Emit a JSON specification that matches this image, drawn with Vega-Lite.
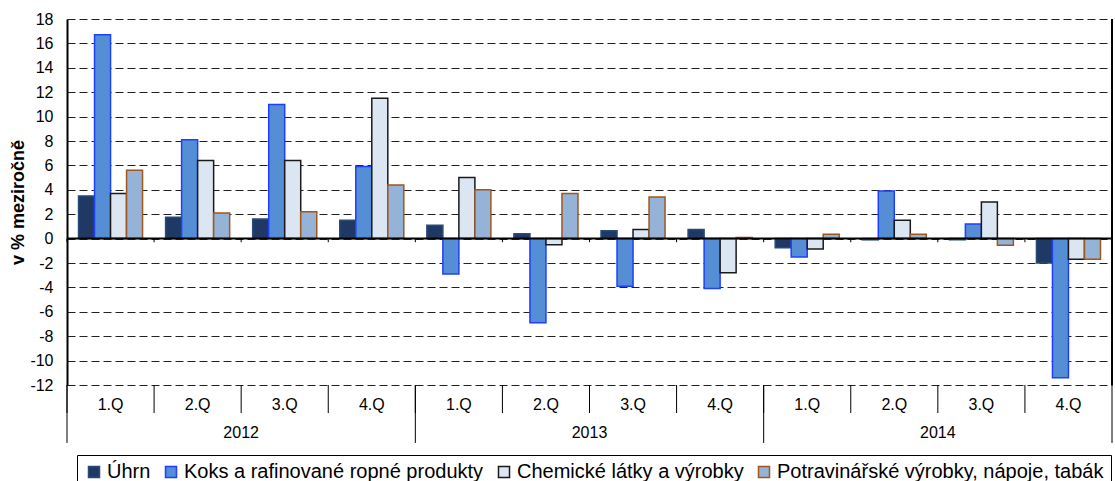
{
  "$schema": "https://vega.github.io/schema/vega-lite/v6.json",
  "width": 1045,
  "height": 366,
  "autosize": {"type": "none"},
  "padding": {"left": 67, "top": 19, "right": 3, "bottom": 96},
  "background": "white",
  "title": {"text": "Ceny průmyslových výrobců ve vybraných oddílech", "fontSize": 16, "fontWeight": "bold", "anchor": "middle", "baseline": "alphabetic", "offset": 6, "dy": 6, "color": "black", "font": "Liberation Sans"},
  "config": {
    "view": {"stroke": null},
    "font": "Liberation Sans",
    "axisY": {"titleFontSize": 18, "titleFontWeight": "bold", "titleColor": "black", "titlePadding": 2, "labelFontSize": 16, "labelColor": "black", "labelPadding": 14, "labelOverlap": false, "ticks": false, "domainColor": "black", "domainWidth": 2, "grid": true, "gridColor": "#222222", "gridDash": [8, 4], "gridWidth": 1},
    "axisX": {"labelAngle": 0, "domain": false, "ticks": false, "labelPadding": 11, "labelFontSize": 16, "labelColor": "black", "grid": false}
  },
  "datasets": {
    "bars": [
      {"period": "2012 1.Q", "series": "Úhrn", "value": 3.5},
      {"period": "2012 1.Q", "series": "Koks a rafinované ropné produkty", "value": 16.7},
      {"period": "2012 1.Q", "series": "Chemické látky a výrobky", "value": 3.7},
      {"period": "2012 1.Q", "series": "Potravinářské výrobky, nápoje, tabák", "value": 5.6},
      {"period": "2012 2.Q", "series": "Úhrn", "value": 1.75},
      {"period": "2012 2.Q", "series": "Koks a rafinované ropné produkty", "value": 8.1},
      {"period": "2012 2.Q", "series": "Chemické látky a výrobky", "value": 6.4},
      {"period": "2012 2.Q", "series": "Potravinářské výrobky, nápoje, tabák", "value": 2.1},
      {"period": "2012 3.Q", "series": "Úhrn", "value": 1.6},
      {"period": "2012 3.Q", "series": "Koks a rafinované ropné produkty", "value": 11.0},
      {"period": "2012 3.Q", "series": "Chemické látky a výrobky", "value": 6.4},
      {"period": "2012 3.Q", "series": "Potravinářské výrobky, nápoje, tabák", "value": 2.2},
      {"period": "2012 4.Q", "series": "Úhrn", "value": 1.5},
      {"period": "2012 4.Q", "series": "Koks a rafinované ropné produkty", "value": 5.9},
      {"period": "2012 4.Q", "series": "Chemické látky a výrobky", "value": 11.5},
      {"period": "2012 4.Q", "series": "Potravinářské výrobky, nápoje, tabák", "value": 4.4},
      {"period": "2013 1.Q", "series": "Úhrn", "value": 1.1},
      {"period": "2013 1.Q", "series": "Koks a rafinované ropné produkty", "value": -2.9},
      {"period": "2013 1.Q", "series": "Chemické látky a výrobky", "value": 5.0},
      {"period": "2013 1.Q", "series": "Potravinářské výrobky, nápoje, tabák", "value": 4.0},
      {"period": "2013 2.Q", "series": "Úhrn", "value": 0.4},
      {"period": "2013 2.Q", "series": "Koks a rafinované ropné produkty", "value": -6.9},
      {"period": "2013 2.Q", "series": "Chemické látky a výrobky", "value": -0.5},
      {"period": "2013 2.Q", "series": "Potravinářské výrobky, nápoje, tabák", "value": 3.7},
      {"period": "2013 3.Q", "series": "Úhrn", "value": 0.65},
      {"period": "2013 3.Q", "series": "Koks a rafinované ropné produkty", "value": -3.9},
      {"period": "2013 3.Q", "series": "Chemické látky a výrobky", "value": 0.75},
      {"period": "2013 3.Q", "series": "Potravinářské výrobky, nápoje, tabák", "value": 3.4},
      {"period": "2013 4.Q", "series": "Úhrn", "value": 0.75},
      {"period": "2013 4.Q", "series": "Koks a rafinované ropné produkty", "value": -4.1},
      {"period": "2013 4.Q", "series": "Chemické látky a výrobky", "value": -2.8},
      {"period": "2013 4.Q", "series": "Potravinářské výrobky, nápoje, tabák", "value": 0.1},
      {"period": "2014 1.Q", "series": "Úhrn", "value": -0.75},
      {"period": "2014 1.Q", "series": "Koks a rafinované ropné produkty", "value": -1.5},
      {"period": "2014 1.Q", "series": "Chemické látky a výrobky", "value": -0.85},
      {"period": "2014 1.Q", "series": "Potravinářské výrobky, nápoje, tabák", "value": 0.35},
      {"period": "2014 2.Q", "series": "Úhrn", "value": -0.1},
      {"period": "2014 2.Q", "series": "Koks a rafinované ropné produkty", "value": 3.9},
      {"period": "2014 2.Q", "series": "Chemické látky a výrobky", "value": 1.5},
      {"period": "2014 2.Q", "series": "Potravinářské výrobky, nápoje, tabák", "value": 0.35},
      {"period": "2014 3.Q", "series": "Úhrn", "value": -0.1},
      {"period": "2014 3.Q", "series": "Koks a rafinované ropné produkty", "value": 1.2},
      {"period": "2014 3.Q", "series": "Chemické látky a výrobky", "value": 3.0},
      {"period": "2014 3.Q", "series": "Potravinářské výrobky, nápoje, tabák", "value": -0.55},
      {"period": "2014 4.Q", "series": "Úhrn", "value": -2.0},
      {"period": "2014 4.Q", "series": "Koks a rafinované ropné produkty", "value": -11.4},
      {"period": "2014 4.Q", "series": "Chemické látky a výrobky", "value": -1.7},
      {"period": "2014 4.Q", "series": "Potravinářské výrobky, nápoje, tabák", "value": -1.7}
    ],
    "periods": [
      {"period": "2012 1.Q"}, {"period": "2012 2.Q"}, {"period": "2012 3.Q"}, {"period": "2012 4.Q"},
      {"period": "2013 1.Q"}, {"period": "2013 2.Q"}, {"period": "2013 3.Q"}, {"period": "2013 4.Q"},
      {"period": "2014 1.Q"}, {"period": "2014 2.Q"}, {"period": "2014 3.Q"}, {"period": "2014 4.Q"}
    ],
    "years": [
      {"period": "2012 1.Q", "mid": "2012 2.Q", "year": "2012"},
      {"period": "2013 1.Q", "mid": "2013 2.Q", "year": "2013"},
      {"period": "2014 1.Q", "mid": "2014 2.Q", "year": "2014"}
    ],
    "edge": [{"period": "2014 4.Q"}]
  },
  "layer": [
    {
      "data": {"name": "bars"},
      "mark": {"type": "bar", "strokeWidth": 1.5},
      "encoding": {
        "x": {
          "field": "period", "type": "ordinal",
          "scale": {"domain": ["2012 1.Q", "2012 2.Q", "2012 3.Q", "2012 4.Q", "2013 1.Q", "2013 2.Q", "2013 3.Q", "2013 4.Q", "2014 1.Q", "2014 2.Q", "2014 3.Q", "2014 4.Q"], "paddingInner": 0, "paddingOuter": 0},
          "axis": {"title": null, "orient": "bottom", "labelExpr": "slice(datum.value, 5)"}
        },
        "xOffset": {
          "field": "series", "type": "nominal",
          "scale": {"domain": ["Úhrn", "Koks a rafinované ropné produkty", "Chemické látky a výrobky", "Potravinářské výrobky, nápoje, tabák"], "paddingOuter": 0.72, "paddingInner": 0}
        },
        "y": {
          "field": "value", "type": "quantitative",
          "scale": {"domain": [-12, 18], "nice": false},
          "axis": {"title": "v % meziročně", "values": [-12, -10, -8, -6, -4, -2, 0, 2, 4, 6, 8, 10, 12, 14, 16, 18], "labelExpr": "'' + datum.value"}
        },
        "fill": {
          "field": "series", "type": "nominal",
          "scale": {"domain": ["Úhrn", "Koks a rafinované ropné produkty", "Chemické látky a výrobky", "Potravinářské výrobky, nápoje, tabák"], "range": ["#1F3864", "#558ED5", "#DCE6F2", "#95B3D7"]},
          "legend": {"title": null, "orient": "none", "legendX": 10, "legendY": 436, "direction": "horizontal", "labelFontSize": 20, "labelColor": "black", "labelLimit": 500, "symbolType": "square", "symbolSize": 121, "symbolStrokeWidth": 1.5, "strokeColor": "black", "fillColor": "white", "padding": 7, "columnPadding": 10, "labelOffset": 3}
        },
        "stroke": {
          "field": "series", "type": "nominal",
          "scale": {"domain": ["Úhrn", "Koks a rafinované ropné produkty", "Chemické látky a výrobky", "Potravinářské výrobky, nápoje, tabák"], "range": ["#2A4A78", "#1F3FFF", "#1A1A1A", "#A0561F"]},
          "legend": {"title": null, "orient": "none", "legendX": 10, "legendY": 436, "direction": "horizontal", "labelFontSize": 20, "labelColor": "black", "labelLimit": 500, "symbolType": "square", "symbolSize": 121, "symbolStrokeWidth": 1.5, "strokeColor": "black", "fillColor": "white", "padding": 7, "columnPadding": 10, "labelOffset": 3}
        }
      }
    },
    {
      "data": {"name": "edge"},
      "mark": {"type": "rule", "color": "black", "strokeWidth": 2},
      "encoding": {"y": {"datum": 0, "type": "quantitative", "axis": {"title": "v % meziročně", "values": [-12, -10, -8, -6, -4, -2, 0, 2, 4, 6, 8, 10, 12, 14, 16, 18], "labelExpr": "'' + datum.value"}}}
    },
    {
      "data": {"name": "periods"},
      "mark": {"type": "rule", "color": "black", "strokeWidth": 1},
      "encoding": {
        "x": {"field": "period", "type": "ordinal", "bandPosition": 0},
        "y": {"datum": 0, "type": "quantitative", "axis": {"title": "v % meziročně", "values": [-12, -10, -8, -6, -4, -2, 0, 2, 4, 6, 8, 10, 12, 14, 16, 18], "labelExpr": "'' + datum.value"}},
        "y2": {"datum": -0.3}
      }
    },
    {
      "data": {"name": "periods"},
      "mark": {"type": "rule", "color": "black", "strokeWidth": 1},
      "encoding": {
        "x": {"field": "period", "type": "ordinal", "bandPosition": 0},
        "y": {"datum": -12, "type": "quantitative", "axis": {"title": "v % meziročně", "values": [-12, -10, -8, -6, -4, -2, 0, 2, 4, 6, 8, 10, 12, 14, 16, 18], "labelExpr": "'' + datum.value"}},
        "y2": {"datum": -14.3}
      }
    },
    {
      "data": {"name": "edge"},
      "mark": {"type": "rule", "color": "black", "strokeWidth": 2},
      "encoding": {
        "x": {"field": "period", "type": "ordinal", "bandPosition": 1},
        "y": {"datum": 18, "type": "quantitative", "axis": {"title": "v % meziročně", "values": [-12, -10, -8, -6, -4, -2, 0, 2, 4, 6, 8, 10, 12, 14, 16, 18], "labelExpr": "'' + datum.value"}},
        "y2": {"datum": -12}
      }
    },
    {
      "data": {"name": "edge"},
      "mark": {"type": "rule", "color": "black", "strokeWidth": 1},
      "encoding": {
        "x": {"field": "period", "type": "ordinal", "bandPosition": 1},
        "y": {"datum": -12, "type": "quantitative", "axis": {"title": "v % meziročně", "values": [-12, -10, -8, -6, -4, -2, 0, 2, 4, 6, 8, 10, 12, 14, 16, 18], "labelExpr": "'' + datum.value"}},
        "y2": {"datum": -16.75}
      }
    },
    {
      "data": {"name": "years"},
      "mark": {"type": "rule", "color": "black", "strokeWidth": 1},
      "encoding": {
        "x": {"field": "period", "type": "ordinal", "bandPosition": 0},
        "y": {"datum": -12, "type": "quantitative", "axis": {"title": "v % meziročně", "values": [-12, -10, -8, -6, -4, -2, 0, 2, 4, 6, 8, 10, 12, 14, 16, 18], "labelExpr": "'' + datum.value"}},
        "y2": {"datum": -16.75}
      }
    },
    {
      "data": {"name": "years"},
      "mark": {"type": "text", "fontSize": 16, "color": "black", "baseline": "middle", "align": "center", "dy": 48},
      "encoding": {
        "x": {"field": "mid", "type": "ordinal", "bandPosition": 1},
        "y": {"datum": -12, "type": "quantitative", "axis": {"title": "v % meziročně", "values": [-12, -10, -8, -6, -4, -2, 0, 2, 4, 6, 8, 10, 12, 14, 16, 18], "labelExpr": "'' + datum.value"}},
        "text": {"field": "year"}
      }
    }
  ]
}
